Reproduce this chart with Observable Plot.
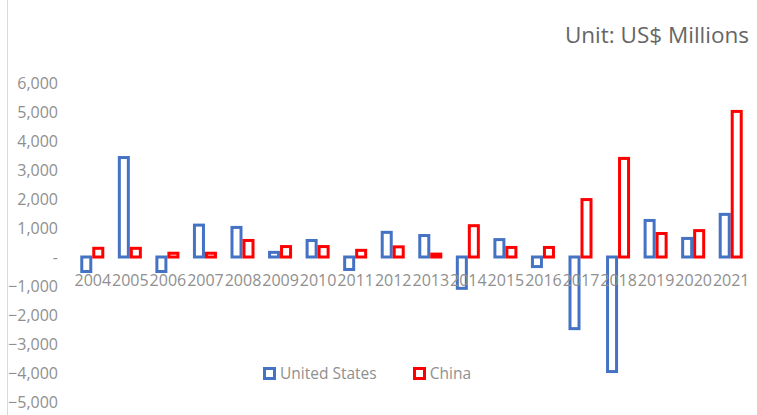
<!DOCTYPE html>
<html>
<head>
<meta charset="utf-8">
<script src="https://cdn.jsdelivr.net/npm/d3@7"></script>
<script src="https://cdn.jsdelivr.net/npm/@observablehq/plot@0.6"></script>
<style>
  html, body { margin: 0; padding: 0; background: #fff; }
  #wrap { position: relative; width: 757px; height: 415px; overflow: hidden; font-family: "Open Sans", sans-serif; }
  #border { position: absolute; left: 7px; top: 0; width: 1px; height: 415px; background: #d9d9d9; }
  #title { position: absolute; right: 8px; top: 20px; font-size: 22.5px; color: #666; line-height: 30px; }
  #legend { position: absolute; left: 263px; top: 362px; font-size: 15.5px; color: #8f8f8f; display: flex; align-items: center; line-height: 22px; }
  .sw { width: 7px; height: 7px; border: 3px solid; background: #fff; margin-right: 4px; }
  .item { display: flex; align-items: center; }
  svg text { font-family: "Open Sans", sans-serif; }
</style>
</head>
<body>
<div id="wrap">
  <div id="border"></div>
  <div id="title">Unit: US$ Millions</div>
  <div id="legend">
    <div class="item"><div class="sw" style="border-color:#4472C4"></div><span>United States</span></div>
    <div class="item" style="margin-left:36px"><div class="sw" style="border-color:#FF0000"></div><span>China</span></div>
  </div>
</div>
<script>
const years = ["2004","2005","2006","2007","2008","2009","2010","2011","2012","2013","2014","2015","2016","2017","2018","2019","2020","2021"];
const usValues = [-500, 3430, -500, 1100, 1020, 160, 570, -430, 850, 740, -1080, 600, -330, -2470, -3950, 1260, 640, 1470];
const chinaValues = [300, 300, 130, 130, 570, 360, 360, 230, 350, 100, 1080, 330, 330, 1980, 3400, 810, 910, 5020];
const yTicks = [6000, 5000, 4000, 3000, 2000, 1000, 0, -1000, -2000, -3000, -4000, -5000];

const us = years.map((y, i) => ({year: y, value: usValues[i]}));
const cn = years.map((y, i) => ({year: y, value: chinaValues[i]}));

const fmt = d => d === 0 ? "-" : d3.format(",")(d);

const chart = Plot.plot({
  width: 757,
  height: 415,
  marginLeft: 73.5,
  marginRight: 7.5,
  marginTop: 83,
  marginBottom: 13,
  style: {background: "transparent", fontFamily: "Open Sans, sans-serif"},
  x: {domain: years, paddingInner: 0.68, paddingOuter: 0.34, round: false, axis: null},
  y: {domain: [-5000, 6000], ticks: yTicks, tickFormat: fmt, tickSize: 0, tickPadding: 16, label: null},
  marks: [
    Plot.axisY({ticks: yTicks, tickFormat: fmt, tickSize: 0, tickPadding: 16, fontSize: 16, color: "#8f8f8f", label: null}),
    Plot.barY(us, {x: "year", y: "value", dx: -6, insetLeft: 1.5, insetRight: 1.5, fill: "none", stroke: "#4472C4", strokeWidth: 3}),
    Plot.barY(cn, {x: "year", y: "value", dx: 6, insetLeft: 1.5, insetRight: 1.5, fill: "none", stroke: "#FF0000", strokeWidth: 3}),
    Plot.text(years, {x: d => d, y: () => 0, text: d => d, dy: 23, fontSize: 16, fill: "#8f8f8f", lineAnchor: "middle"})
  ]
});
chart.style.position = "absolute";
chart.style.left = "0";
chart.style.top = "0";
document.getElementById("wrap").appendChild(chart);
</script>
</body>
</html>
